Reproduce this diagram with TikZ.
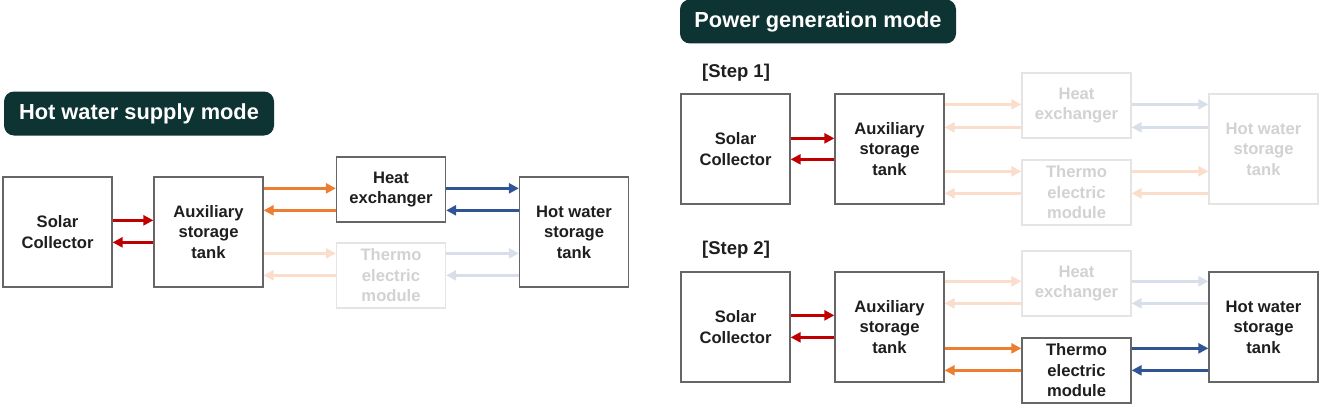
\documentclass[tikz,border=0pt]{standalone}
\usepackage{fontspec}
\setmainfont{Liberation Sans}
\usetikzlibrary{arrows.meta,calc}

\definecolor{boxline}{HTML}{666666}
\definecolor{boxtext}{HTML}{1E1E1E}
\definecolor{fadeline}{HTML}{E4E4E4}
\definecolor{fadetext}{HTML}{D2D2D2}
\definecolor{titlefill}{HTML}{0D3432}
\definecolor{loopred}{HTML}{C00000}
\definecolor{looporange}{HTML}{ED7D31}
\definecolor{loopblue}{HTML}{2F5597}
\definecolor{fadeorange}{HTML}{FADDCB}
\definecolor{fadeblue}{HTML}{D8DEEA}

\tikzset{
  unit/.style={draw=boxline,line width=1.3pt,fill=white,text=boxtext,align=center,
    font=\fontsize{16.6}{20.5}\selectfont\bfseries,inner sep=2pt,minimum width=109pt},
  tank/.style={unit,minimum height=110pt},
  module/.style={unit,minimum height=65pt},
  faded/.style={draw=fadeline,text=fadetext},
  modetitle/.style={fill=titlefill,text=white,rounded corners=10pt,minimum height=44pt,
    font=\fontsize{21.8}{24}\selectfont\bfseries},
  steplabel/.style={text=boxtext,font=\fontsize{18.5}{20}\selectfont\bfseries},
  flow/.style={line width=2.4pt,-{Triangle[length=10pt,width=10pt]}},
  redflow/.style={flow,loopred},
  orangeflow/.style={flow,looporange},
  blueflow/.style={flow,loopblue},
  orangefade/.style={flow,fadeorange},
  bluefade/.style={flow,fadeblue}
}

% arrow at height of (ref top + offset)
\newcommand{\flow}[5]{%
  \path ($(#4.north)+(0,#5)$) coordinate (fy);
  \draw[#1] (#2 |- fy) -- (#3 |- fy);}

\begin{document}
\begin{tikzpicture}[x=1pt,y=-1pt]
  \useasboundingbox (0,0) rectangle (1332,404);

  % hot water supply mode
  \node[modetitle,minimum width=270pt] (hwtitle) at (139,113.5) {Hot water supply mode};

  \node[tank] (sc) at (57.5,232) {Solar\\Collector};
  \node[tank] (aux) at (208.5,232) {Auxiliary\\storage\\tank};
  \node[module] (hx) at (391,189.5) {Heat\\exchanger};
  \node[module,faded] (te) at (391,275.5) {Thermo\\electric\\module};
  \node[tank] (hw) at (574,232) {Hot water\\storage\\tank};

  \flow{redflow}{sc.east}{aux.west}{aux}{44}
  \flow{redflow}{aux.west}{sc.east}{aux}{66}
  \flow{orangeflow}{aux.east}{hx.west}{aux}{12}
  \flow{orangeflow}{hx.west}{aux.east}{aux}{34}
  \flow{blueflow}{hx.east}{hw.west}{aux}{12}
  \flow{blueflow}{hw.west}{hx.east}{aux}{34}
  \flow{orangefade}{aux.east}{te.west}{aux}{77}
  \flow{orangefade}{te.west}{aux.east}{aux}{99}
  \flow{bluefade}{te.east}{hw.west}{aux}{77}
  \flow{bluefade}{hw.west}{te.east}{aux}{99}

  % power generation mode
  \node[modetitle,minimum width=276pt] (pgtitle) at (818,21.5) {Power generation mode};

  % step 1
  \node[steplabel] (stepa) at (736,73) {[Step 1]};
  \node[tank] (sca) at (735.5,149) {Solar\\Collector};
  \node[tank] (auxa) at (889.5,149) {Auxiliary\\storage\\tank};
  \node[module,faded] (hxa) at (1076.5,105.5) {Heat\\exchanger};
  \node[module,faded] (tea) at (1076.5,192.5) {Thermo\\electric\\module};
  \node[tank,faded] (hwa) at (1263.5,149) {Hot water\\storage\\tank};

  \flow{redflow}{sca.east}{auxa.west}{auxa}{45}
  \flow{redflow}{auxa.west}{sca.east}{auxa}{66}
  \flow{orangefade}{auxa.east}{hxa.west}{auxa}{11}
  \flow{orangefade}{hxa.west}{auxa.east}{auxa}{34}
  \flow{bluefade}{hxa.east}{hwa.west}{auxa}{11}
  \flow{bluefade}{hwa.west}{hxa.east}{auxa}{34}
  \flow{orangefade}{auxa.east}{tea.west}{auxa}{78}
  \flow{orangefade}{tea.west}{auxa.east}{auxa}{100}
  \flow{orangefade}{tea.east}{hwa.west}{auxa}{78}
  \flow{orangefade}{hwa.west}{tea.east}{auxa}{100}

  % step 2
  \node[steplabel] (stepb) at (736,250) {[Step 2]};
  \node[tank] (scb) at (735.5,327) {Solar\\Collector};
  \node[tank] (auxb) at (889.5,327) {Auxiliary\\storage\\tank};
  \node[module,faded] (hxb) at (1076.5,283.5) {Heat\\exchanger};
  \node[module] (teb) at (1076.5,370.5) {Thermo\\electric\\module};
  \node[tank] (hwb) at (1263.5,327) {Hot water\\storage\\tank};

  \flow{redflow}{scb.east}{auxb.west}{auxb}{44}
  \flow{redflow}{auxb.west}{scb.east}{auxb}{66}
  \flow{orangefade}{auxb.east}{hxb.west}{auxb}{10}
  \flow{orangefade}{hxb.west}{auxb.east}{auxb}{32}
  \flow{bluefade}{hxb.east}{hwb.west}{auxb}{10}
  \flow{bluefade}{hwb.west}{hxb.east}{auxb}{32}
  \flow{orangeflow}{auxb.east}{teb.west}{auxb}{77}
  \flow{orangeflow}{teb.west}{auxb.east}{auxb}{99}
  \flow{blueflow}{teb.east}{hwb.west}{auxb}{77}
  \flow{blueflow}{hwb.west}{teb.east}{auxb}{99}
\end{tikzpicture}
\end{document}
